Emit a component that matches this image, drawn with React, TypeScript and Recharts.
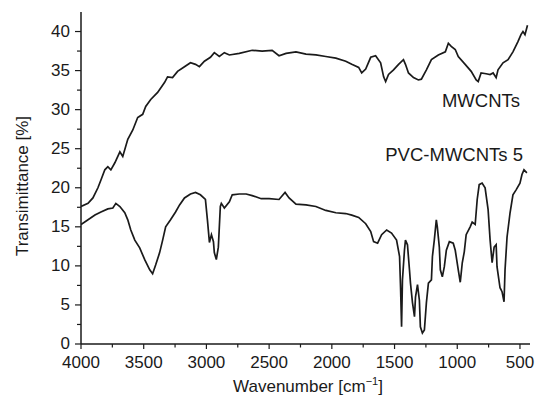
import { Line, LineChart, XAxis, YAxis } from "recharts";

// FTIR spectra
const mwcntsWavenumber = [
  4000, 3944, 3905, 3865, 3841, 3810, 3786, 3762, 3730, 3690, 3667, 3627, 3587, 3548, 3508, 3484,
  3444, 3389, 3333, 3310, 3270, 3230, 3175, 3127, 3087, 3056, 3016, 2968, 2937, 2897, 2857, 2817,
  2738, 2635, 2556, 2476, 2421, 2365, 2286, 2206, 2127, 2048, 1968, 1889, 1841, 1786, 1762, 1730,
  1690, 1651, 1611, 1587, 1571, 1548, 1508, 1468, 1429, 1413, 1389, 1349, 1310, 1286, 1246, 1206,
  1151, 1095, 1071, 1048, 1016, 992, 937, 889, 849, 833, 810, 770, 738, 714, 690, 675, 635, 595,
  556, 516, 492, 476, 460, 440,
];
const mwcntsT = [
  17.6, 18.0, 18.7, 20.0, 21.0, 22.3, 22.7, 22.3, 23.2, 24.6, 24.0, 26.2, 27.4, 29.0, 29.4, 30.4,
  31.3, 32.2, 33.5, 34.2, 34.1, 34.9, 35.5, 36.0, 35.8, 35.5, 36.2, 36.7, 37.3, 36.8, 37.3, 37.0,
  37.2, 37.6, 37.5, 37.6, 36.9, 37.2, 37.4, 37.1, 37.0, 36.8, 36.6, 36.2, 35.8, 35.4, 34.7, 35.2,
  36.7, 36.9, 36.0, 34.2, 33.6, 34.5, 35.1, 35.8, 36.4, 35.8, 34.7, 34.1, 33.8, 33.9, 35.1, 36.4,
  37.0, 37.4, 38.5, 38.1, 37.7, 36.8, 35.8, 34.9, 33.8, 33.6, 34.7, 34.6, 34.5, 34.7, 34.1, 35.1,
  36.0, 36.4, 37.4, 38.7, 39.6, 40.0, 39.6, 40.8,
];

const pvcWavenumber = [
  4000, 3944, 3889, 3841, 3786, 3746, 3722, 3690, 3651, 3627, 3603, 3571, 3532, 3492, 3452, 3429,
  3405, 3373, 3349, 3325, 3286, 3246, 3214, 3175, 3127, 3087, 3048, 3008, 2992, 2976, 2960, 2944,
  2937, 2921, 2905, 2889, 2881, 2857, 2817, 2794, 2738, 2683, 2635, 2563, 2500, 2421, 2373, 2341,
  2286, 2206, 2127, 2048, 1968, 1889, 1841, 1786, 1730, 1690, 1667, 1635, 1603, 1563, 1524, 1484,
  1460, 1452, 1444, 1437, 1421, 1413, 1397, 1381, 1373, 1357, 1341, 1333, 1317, 1302, 1294, 1278,
  1262, 1246, 1230, 1206, 1198, 1183, 1167, 1159, 1143, 1135, 1119, 1103, 1087, 1063, 1032, 1016,
  992, 976, 960, 944, 929, 897, 881, 857, 841, 825, 802, 778, 754, 738, 722, 706, 690, 683, 659,
  643, 627, 619, 603, 579, 556, 532, 500, 484, 468, 445,
];
const pvcT = [
  15.3, 15.9, 16.5, 16.9, 17.3, 17.4, 18.0, 17.6, 16.8, 15.9, 14.6, 13.3, 12.3, 10.8, 9.5, 9.0,
  10.1, 11.7, 13.3, 15.0, 15.9, 16.9, 17.8, 18.7, 19.2, 19.4, 19.1, 18.5, 15.9, 13.0, 14.0, 13.1,
  11.7, 10.8, 12.4, 17.6, 18.0, 17.4, 18.2, 19.1, 19.2, 19.2, 19.0, 18.6, 18.6, 18.5, 19.4, 18.7,
  17.9, 17.8, 17.6, 17.1, 16.8, 16.7, 16.5, 16.2, 15.4, 14.4, 13.1, 12.9, 14.0, 14.6, 14.2, 13.3,
  11.2, 7.2, 2.2, 8.2, 12.0, 13.3, 12.7, 9.5, 7.8, 5.3, 3.5, 6.0, 7.6, 5.6, 2.2, 1.4,
  1.8, 5.3, 7.8, 8.2, 11.2, 13.3, 15.9, 15.0, 12.4, 9.5, 8.6, 9.9, 12.0, 13.1, 12.9, 12.0,
  9.5, 7.9, 10.4, 11.8, 14.0, 15.0, 15.6, 15.3, 18.5, 20.4, 20.6, 20.0, 17.2, 13.3, 10.4, 12.4, 12.7, 9.9, 7.2,
  6.7, 5.4, 9.5, 13.7, 16.8, 19.1, 19.7, 20.6, 21.7, 22.3, 21.9,
];

const xTicks = [
  500, 750, 1000, 1250, 1500, 1750, 2000, 2250, 2500, 2750, 3000, 3250, 3500, 3750, 4000,
];
const yTicks = [0, 2.5, 5, 7.5, 10, 12.5, 15, 17.5, 20, 22.5, 25, 27.5, 30, 32.5, 35, 37.5, 40];

const mwcntsRows = mwcntsWavenumber.map((w, i) => ({ w, t: mwcntsT[i] }));
const pvcRows = pvcWavenumber.map((w, i) => ({ w, t: pvcT[i] }));

const FONT = "'Liberation Sans', Arial, Helvetica, sans-serif";
const INK = "#1a1a1a";

function XTick({ x, y, payload }: any) {
  const major = payload.value % 500 === 0;
  return (
    <g>
      <line x1={x} x2={x} y1={y} y2={y + (major ? 5 : 3.5)} stroke={INK} strokeWidth={1.2} />
      {major && (
        <text x={x} y={y + 24} textAnchor="middle" fontSize={17} fontFamily={FONT} fill={INK}>
          {payload.value}
        </text>
      )}
    </g>
  );
}

function YTick({ x, y, payload }: any) {
  const major = payload.value % 5 === 0;
  return (
    <g>
      <line x1={x} x2={x - (major ? 6 : 4)} y1={y} y2={y} stroke={INK} strokeWidth={1.2} />
      {major && (
        <text x={x - 11} y={y + 5} textAnchor="end" fontSize={17} fontFamily={FONT} fill={INK}>
          {payload.value}
        </text>
      )}
    </g>
  );
}

export default function App() {
  return (
    <div style={{ position: "absolute", left: 0, top: 0, width: 535, height: 405, background: "#fff" }}>
      <LineChart width={535} height={405} margin={{ top: 12, right: 5, bottom: 0, left: 0 }}>
        <XAxis
          dataKey="w"
          type="number"
          domain={[420, 4000]}
          reversed
          ticks={xTicks}
          interval={0}
          height={61}
          tickSize={0}
          tickMargin={0}
          tickLine={false}
          tick={<XTick />}
          axisLine={{ stroke: INK, strokeWidth: 1.5 }}
          allowDataOverflow
        />
        <XAxis
          xAxisId="top"
          orientation="top"
          type="number"
          domain={[420, 4000]}
          reversed
          height={0}
          tick={false}
          tickLine={false}
          axisLine={{ stroke: INK, strokeWidth: 1.5 }}
        />
        <YAxis
          type="number"
          domain={[0, 42.5]}
          ticks={yTicks}
          interval={0}
          width={81}
          tickSize={0}
          tickMargin={0}
          tickLine={false}
          tick={<YTick />}
          axisLine={{ stroke: INK, strokeWidth: 1.5 }}
          allowDataOverflow
        />
        <YAxis
          yAxisId="right"
          orientation="right"
          type="number"
          domain={[0, 42.5]}
          width={0}
          tick={false}
          tickLine={false}
          axisLine={{ stroke: INK, strokeWidth: 1.5 }}
        />
        <Line
          data={mwcntsRows}
          dataKey="t"
          type="linear"
          stroke={INK}
          strokeWidth={1.7}
          dot={false}
          isAnimationActive={false}
        />
        <Line
          data={pvcRows}
          dataKey="t"
          type="linear"
          stroke={INK}
          strokeWidth={1.7}
          dot={false}
          isAnimationActive={false}
        />
      </LineChart>

      <svg
        width={535}
        height={405}
        style={{ position: "absolute", left: 0, top: 0, pointerEvents: "none" }}
        fontFamily={FONT}
        fill={INK}
      >
        <text x={520} y={107} textAnchor="end" fontSize={18.5}>
          MWCNTs
        </text>
        <text x={523} y={161} textAnchor="end" fontSize={18.5}>
          PVC-MWCNTs 5
        </text>
        <text x={308} y={392} textAnchor="middle" fontSize={17}>
          Wavenumber [cm
          <tspan dy={-7} fontSize={11}>
            −1
          </tspan>
          <tspan dy={7}>]</tspan>
        </text>
        <text x={28} y={186} textAnchor="middle" fontSize={17} transform="rotate(-90 28 186)">
          Transimittance [%]
        </text>
      </svg>
    </div>
  );
}
